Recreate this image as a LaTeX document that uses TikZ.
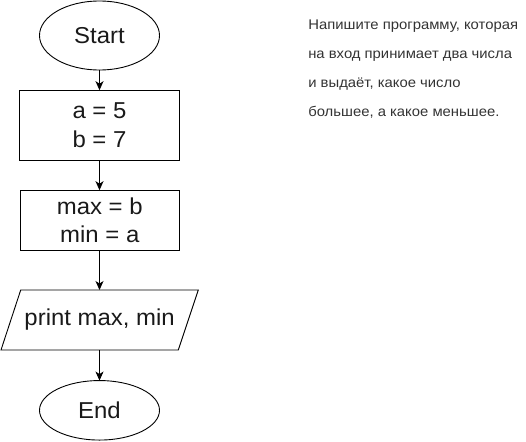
\documentclass[tikz,border=0pt]{standalone}
\usepackage{fontspec}
\setmainfont{Liberation Sans}
\newfontfamily\flowfont[FakeStretch=1.04]{Liberation Sans}
\newfontfamily\notefont[FakeStretch=1.06]{Liberation Sans}
\usetikzlibrary{shapes.geometric,arrows.meta}
\begin{document}
\begin{tikzpicture}[x=1pt,y=-1pt,
  every node/.style={inner sep=0pt,outer sep=0pt},
  flowtext/.style={font=\flowfont\fontsize{23}{28.7}\selectfont,align=center,text=black!90},
  term/.style={ellipse,draw,line width=0.9pt,minimum width=120pt,flowtext},
  proc/.style={rectangle,draw,line width=0.9pt,flowtext},
  conn/.style={line width=0.9pt,-{Stealth[length=9pt,width=8pt,inset=2.5pt]}},
  note/.style={font=\notefont\fontsize{14}{29.1}\selectfont,align=left,text=black!80}]
\useasboundingbox (0,0) rectangle (526,441);
\node[term,minimum height=69pt] (start) at (99.5,35.5) {Start};
\node[proc,minimum width=160pt,minimum height=70pt] (init) at (99.5,125.2) {a = 5\\b = 7};
\node[proc,minimum width=159pt,minimum height=60pt] (assign) at (99.8,220.2) {max = b\\min = a};
\node[flowtext,minimum width=158pt,minimum height=60pt] (out) at (99.6,320) {print max, min};
\draw[line width=0.9pt] ([xshift=-78.9pt]out.north) -- ([xshift=98.7pt]out.north)
  -- ([xshift=78.7pt]out.south) -- ([xshift=-98.6pt]out.south) -- cycle;
\node[term,minimum height=59.5pt] (end) at (99.5,410.3) {End};
\draw[conn] (start.south) -- (init.north);
\draw[conn] (init.south-|start.south) -- (assign.north-|start.south);
\draw[conn] (assign.south-|start.south) -- (out.north-|start.south);
\draw[conn] (out.south-|start.south) -- (end.north);
\node[note,anchor=base west] (task) at (308.3,116.7) {Напишите программу, которая\\на вход принимает два числа\\и выдаёт, какое число\\большее, а какое меньшее.};
\end{tikzpicture}
\end{document}
